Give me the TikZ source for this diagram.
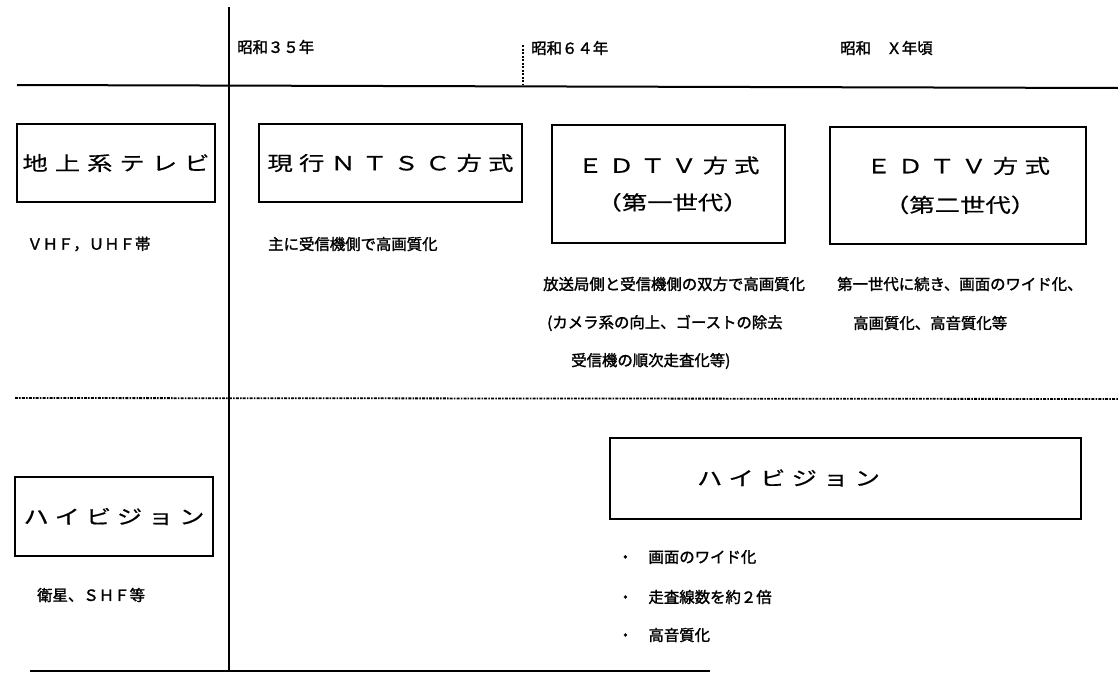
\documentclass[tikz,border=0pt]{standalone}
\usepackage{fontspec}
\newfontfamily\jp[FakeBold=1.6]{Noto Sans CJK JP}
\newfontfamily\jpwide[FakeStretch=1.3,FakeBold=0.6]{Noto Sans CJK JP}
\newcommand\boxfont{\jpwide\fontsize{19.5}{22}\selectfont}
\newcommand\bodyfont{\jp\fontsize{15.4}{18}\selectfont}
\tikzset{
  frame/.style={draw, line width=1.5pt, inner sep=0pt, align=center, font=\boxfont},
  txt/.style={inner sep=0pt, anchor=west, font=\bodyfont},
  boxtxt/.style={inner sep=0pt, font=\boxfont},
  rule/.style={line width=2pt},
}
\begin{document}
\begin{tikzpicture}[x=1pt, y=-1pt]
\useasboundingbox (0,0) rectangle (1118,672);
\fill[white] (0,0) rectangle (1118,672);

% dividing lines
\coordinate (vtop) at (229,7);
\coordinate (vbot) at (229,672);
\coordinate (hl) at (17,85);
\coordinate (hr) at (1118,88);
\coordinate (dtop) at (523,45);
\coordinate (dbot) at (523,84);
\coordinate (dl) at (15,398);
\coordinate (dr) at (1118,399);
\coordinate (bl) at (30,671);
\coordinate (br) at (710,671);
\draw[rule] (vtop) -- (vbot);
\draw[rule] (hl) -- (hr);
\draw[line width=1.8pt, dash pattern=on 2pt off 1.5pt] (dtop) -- (dbot);
\draw[line width=1.8pt, dash pattern=on 3pt off 1.2pt on 1.5pt off 1.2pt] (dl) -- (dr);
\draw[line width=1.8pt] (bl) -- (br);

% header
\node[txt] (y35) at (237,47) {昭和３５年};
\node[txt] (y64) at (531,48) {昭和６４年};
\node[txt] (yx) at (840,48) {昭和　Ｘ年頃};

% row 1 boxes
\node[frame, minimum width=198pt, minimum height=78pt] (tv) at (116,163)
  {\makebox[187pt][s]{地\hfill 上\hfill 系\hfill テ\hfill レ\hfill ビ}};
\node[frame, minimum width=263pt, minimum height=78pt] (ntsc) at (390.5,163)
  {\makebox[246pt][s]{現\hfill 行\hfill Ｎ\hfill Ｔ\hfill Ｓ\hfill Ｃ\hfill 方\hfill 式}};
\node[frame, minimum width=233pt, minimum height=118pt] (edtva) at (668.5,184)
  {\makebox[182pt][s]{Ｅ\hfill Ｄ\hfill Ｔ\hfill Ｖ\hfill 方\hfill 式}\\[15pt]
   \makebox[144pt][s]{（\hfill 第\hfill 一\hfill 世\hfill 代\hfill ）}};
\node[frame, minimum width=256pt, minimum height=117pt] (edtvb) at (958,185.5)
  {\makebox[184pt][s]{Ｅ\hfill Ｄ\hfill Ｔ\hfill Ｖ\hfill 方\hfill 式}\\[17pt]
   \makebox[148pt][s]{（\hfill 第\hfill 二\hfill 世\hfill 代\hfill ）}};

% row 1 texts
\node[txt] (vhf) at (27,244) {ＶＨＦ，ＵＨＦ帯};
\node[txt] (ntscnote) at (268,244) {主に受信機側で高画質化};
\node[txt] (eanote1) at (543,284) {放送局側と受信機側の双方で高画質化};
\node[txt] (eanote2) at (547,323) {(カメラ系の向上、ゴーストの除去};
\node[txt] (eanote3) at (571,361) {受信機の順次走査化等)};
\node[txt] (ebnote1) at (837,284) {第一世代に続き、画面のワイド化、};
\node[txt] (ebnote2) at (853,323) {高画質化、高音質化等};

% row 2
\node[frame, minimum width=198pt, minimum height=79pt] (hvl) at (114,516.5)
  {\makebox[181pt][s]{ハ\hfill イ\hfill ビ\hfill ジ\hfill ョ\hfill ン}};
\node[txt] (sat) at (37,595) {衛星、ＳＨＦ等};
\node[frame, minimum width=471pt, minimum height=81pt] (hvr) at (845.5,478.5) {};
\node[boxtxt] (hvrtxt) at (788.5,478)
  {\makebox[183pt][s]{ハ\hfill イ\hfill ビ\hfill ジ\hfill ョ\hfill ン}};
\node[txt] (b1) at (617.5,557) {・　画面のワイド化};
\node[txt] (b2) at (617.5,597) {・　走査線数を約２倍};
\node[txt] (b3) at (617.5,635) {・　高音質化};
\end{tikzpicture}
\end{document}
